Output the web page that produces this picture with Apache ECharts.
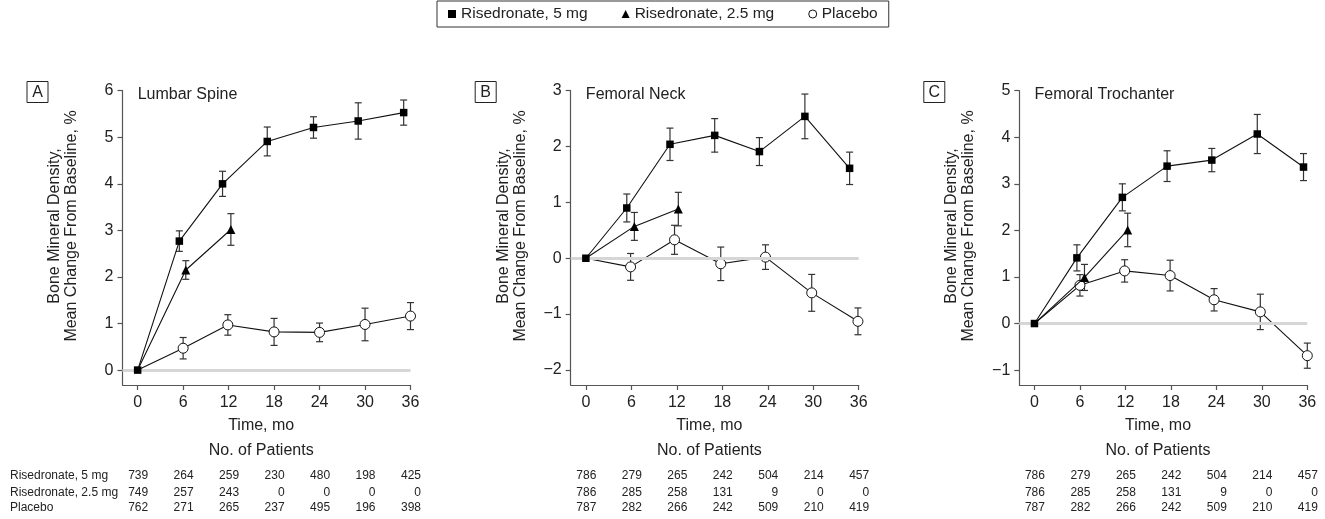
<!DOCTYPE html>
<html>
<head>
<meta charset="utf-8">
<script src="https://cdn.jsdelivr.net/npm/echarts@6/dist/echarts.min.js"></script>
<style>
html,body{margin:0;padding:0;background:#fff;}
#chart{width:1325px;height:519px;}
</style>
</head>
<body>
<div id="chart"></div>
<script>
// ---- data ----
const months = [0, 6, 12, 18, 24, 30, 36];
const seriesNames = ['Risedronate, 5 mg', 'Risedronate, 2.5 mg', 'Placebo'];
const panelLetters = ['A', 'B', 'C'];
const panelTitles = ['Lumbar Spine', 'Femoral Neck', 'Femoral Trochanter'];
const yTicksA = [0, 1, 2, 3, 4, 5, 6];
const yTicksB = [-2, -1, 0, 1, 2, 3];
const yTicksC = [-1, 0, 1, 2, 3, 4, 5];

// Panel A: Lumbar Spine
const lsSqX = [0, 5.5, 11.2, 17.1, 23.2, 29.1, 35.1];
const lsSqY = [0, 2.77, 4.0, 4.91, 5.21, 5.35, 5.53];
const lsSqErr = [0, 0.22, 0.27, 0.31, 0.23, 0.39, 0.27];
const lsTriX = [0, 6.35, 12.3];
const lsTriY = [0, 2.15, 3.02];
const lsTriErr = [0, 0.2, 0.34];
const lsPlX = [0, 6, 11.9, 18, 24, 30, 36];
const lsPlY = [0, 0.47, 0.97, 0.82, 0.81, 0.98, 1.16];
const lsPlErr = [0, 0.23, 0.22, 0.29, 0.2, 0.35, 0.29];

// Panel B: Femoral Neck
const fnSqX = [0, 5.4, 11.1, 17.0, 22.9, 28.9, 34.8];
const fnSqY = [0, 0.90, 2.04, 2.20, 1.91, 2.54, 1.61];
const fnSqErr = [0, 0.25, 0.29, 0.3, 0.25, 0.4, 0.29];
const fnTriX = [0, 6.4, 12.2];
const fnTriY = [0, 0.57, 0.88];
const fnTriErr = [0, 0.25, 0.3];
const fnPlX = [0, 5.9, 11.7, 17.8, 23.7, 29.8, 35.9];
const fnPlY = [0, -0.155, 0.33, -0.1, 0.02, -0.62, -1.13];
const fnPlErr = [0, 0.24, 0.26, 0.3, 0.22, 0.33, 0.24];

// Panel C: Femoral Trochanter
const ftSqX = [0, 5.6, 11.6, 17.5, 23.4, 29.4, 35.5];
const ftSqY = [0, 1.41, 2.71, 3.38, 3.51, 4.07, 3.36];
const ftSqErr = [0, 0.28, 0.29, 0.33, 0.25, 0.42, 0.29];
const ftTriX = [0, 6.6, 12.3];
const ftTriY = [0, 0.99, 2.01];
const ftTriErr = [0, 0.28, 0.36];
const ftPlX = [0, 6, 11.9, 17.9, 23.7, 29.8, 36];
const ftPlY = [0, 0.82, 1.13, 1.03, 0.51, 0.25, -0.69];
const ftPlErr = [0, 0.23, 0.24, 0.33, 0.24, 0.38, 0.27];

// Number of patients
const lsN5 = [739, 264, 259, 230, 480, 198, 425];
const lsN25 = [749, 257, 243, 0, 0, 0, 0];
const lsNPl = [762, 271, 265, 237, 495, 196, 398];
const fnN5 = [786, 279, 265, 242, 504, 214, 457];
const fnN25 = [786, 285, 258, 131, 9, 0, 0];
const fnNPl = [787, 282, 266, 242, 509, 210, 419];
const ftN5 = [786, 279, 265, 242, 504, 214, 457];
const ftN25 = [786, 285, 258, 131, 9, 0, 0];
const ftNPl = [787, 282, 266, 242, 509, 210, 419];

// ---- build ----
const FONT = '"Liberation Sans", Arial, Helvetica, sans-serif';
const TXT = '#222';
const AX = '#555';

const panels = [
  { sq: [lsSqX, lsSqY, lsSqErr], tri: [lsTriX, lsTriY, lsTriErr], pl: [lsPlX, lsPlY, lsPlErr],
    n: [lsN5, lsN25, lsNPl], yMin: -0.32, yMax: 6, yTicks: yTicksA, left: 122.5 },
  { sq: [fnSqX, fnSqY, fnSqErr], tri: [fnTriX, fnTriY, fnTriErr], pl: [fnPlX, fnPlY, fnPlErr],
    n: [fnN5, fnN25, fnNPl], yMin: -2.27, yMax: 3, yTicks: yTicksB, left: 570.7 },
  { sq: [ftSqX, ftSqY, ftSqErr], tri: [ftTriX, ftTriY, ftTriErr], pl: [ftPlX, ftPlY, ftPlErr],
    n: [ftN5, ftN25, ftNPl], yMin: -1.32, yMax: 5, yTicks: yTicksC, left: 1019.3 }
];

// points; the shared baseline point (month 0) is hidden under the square marker
function pts(xs, ys, hideFirst) {
  return xs.map((x, i) => (hideFirst && i === 0) ? { value: [x, ys[i]], symbol: 'none' } : [x, ys[i]]);
}
function errPts(xs, ys, es) {
  const out = [];
  xs.forEach((x, i) => { if (es[i] > 0) out.push([x, ys[i] - es[i], ys[i] + es[i]]); });
  return out;
}
function errRender(params, api) {
  const x = api.value(0), lo = api.value(1), hi = api.value(2);
  const p1 = api.coord([x, lo]), p2 = api.coord([x, hi]);
  const w = 3.5;
  const st = { stroke: '#333', lineWidth: 1.2 };
  return { type: 'group', children: [
    { type: 'line', shape: { x1: p1[0], y1: p1[1], x2: p2[0], y2: p2[1] }, style: st },
    { type: 'line', shape: { x1: p1[0] - w, y1: p1[1], x2: p1[0] + w, y2: p1[1] }, style: st },
    { type: 'line', shape: { x1: p2[0] - w, y1: p2[1], x2: p2[0] + w, y2: p2[1] }, style: st }
  ]};
}

const grids = [], xAxes = [], yAxes = [], series = [];
panels.forEach((p, i) => {
  grids.push({ left: p.left, top: 90.7, width: 288, height: 294.3 });
  xAxes.push({
    type: 'value', gridIndex: i, min: -2, max: 36,
    splitLine: { show: false },
    axisLine: { show: true, onZero: false, lineStyle: { color: AX, width: 1.2 } },
    axisTick: { show: true, length: 5, customValues: months, lineStyle: { color: AX, width: 1.2 } },
    axisLabel: { customValues: months, margin: 10, fontSize: 16, color: TXT, fontFamily: FONT }
  });
  yAxes.push({
    type: 'value', gridIndex: i, min: p.yMin, max: p.yMax,
    splitLine: { show: false },
    axisLine: { show: true, onZero: false, lineStyle: { color: AX, width: 1.2 } },
    axisTick: { show: true, length: 5, customValues: p.yTicks, lineStyle: { color: AX, width: 1.2 } },
    axisLabel: { customValues: p.yTicks, margin: 9, fontSize: 16, color: TXT, fontFamily: FONT,
      formatter: v => (v < 0 ? '\u2212' + Math.abs(v) : String(v)) }
  });
  // zero reference line
  series.push({
    type: 'line', name: 'zero' + i, xAxisIndex: i, yAxisIndex: i, data: [], z: 0, silent: true,
    markLine: { silent: true, symbol: 'none', label: { show: false },
      lineStyle: { color: '#d6d6d6', width: 3, type: 'solid' },
      emphasis: { disabled: true }, animation: false,
      data: [{ yAxis: 0 }] }
  });
  // error bars
  [p.pl, p.tri, p.sq].forEach((s, k) => {
    series.push({
      type: 'custom', name: 'err' + i + '_' + k, xAxisIndex: i, yAxisIndex: i, z: 1, silent: true,
      renderItem: errRender, encode: { x: 0, y: [1, 2] },
      data: errPts(s[0], s[1], s[2])
    });
  });
  // lines + markers
  series.push({
    type: 'line', name: seriesNames[2], xAxisIndex: i, yAxisIndex: i, z: 3,
    data: pts(p.pl[0], p.pl[1], true), symbol: 'circle', symbolSize: 10, showAllSymbol: true,
    lineStyle: { color: '#111', width: 1.1 },
    itemStyle: { color: '#fff', borderColor: '#111', borderWidth: 1 },
    emphasis: { disabled: true }
  });
  series.push({
    type: 'line', name: seriesNames[1], xAxisIndex: i, yAxisIndex: i, z: 4,
    data: pts(p.tri[0], p.tri[1], true), symbol: 'triangle', symbolSize: 9, showAllSymbol: true,
    lineStyle: { color: '#111', width: 1.1 },
    itemStyle: { color: '#000' },
    emphasis: { disabled: true }
  });
  series.push({
    type: 'line', name: seriesNames[0], xAxisIndex: i, yAxisIndex: i, z: 5,
    data: pts(p.sq[0], p.sq[1], false), symbol: 'rect', symbolSize: 7.5, showAllSymbol: true,
    lineStyle: { color: '#111', width: 1.1 },
    itemStyle: { color: '#000' },
    emphasis: { disabled: true }
  });
});

const chart = echarts.init(document.getElementById('chart'), null, { renderer: 'canvas' });
chart.setOption({
  animation: false,
  backgroundColor: '#fff',
  textStyle: { fontFamily: FONT },
  legend: {
    left: 437, top: 1,
    data: [
      { name: seriesNames[0], icon: 'rect' },
      { name: seriesNames[1], icon: 'triangle' },
      { name: seriesNames[2], icon: 'circle', itemStyle: { color: '#fff', borderColor: '#111', borderWidth: 1 } }
    ],
    itemWidth: 8, itemHeight: 8, itemGap: 34,
    padding: [5, 11, 5, 11],
    borderColor: '#333', borderWidth: 1, borderRadius: 0,
    selectedMode: false,
    textStyle: { fontSize: 15.5, color: TXT, fontFamily: FONT }
  },
  grid: grids, xAxis: xAxes, yAxis: yAxes, series: series
});

// ---- annotations positioned via axes ----
const graphics = [];
const rowY = [476, 492.3, 507.7];
panels.forEach((p, i) => {
  const px = v => chart.convertToPixel({ xAxisIndex: i }, v);
  const axisX = p.left;
  // panel letter box
  graphics.push({ type: 'rect', shape: { x: axisX - 95.5, y: 81.5, width: 21, height: 21 },
    style: { fill: '#fff', stroke: '#222', lineWidth: 1 } });
  graphics.push({ type: 'text', x: axisX - 85, y: 92.5,
    style: { text: panelLetters[i], font: '16px ' + FONT, fill: TXT, align: 'center', verticalAlign: 'middle' } });
  // title
  graphics.push({ type: 'text', x: px(0), y: 95,
    style: { text: panelTitles[i], font: '16px ' + FONT, fill: TXT, align: 'left', verticalAlign: 'middle' } });
  // y axis title
  graphics.push({ type: 'text', x: axisX - 59, y: 226, rotation: Math.PI / 2,
    style: { text: 'Bone Mineral Density,\nMean Change From Baseline, %', font: '16px ' + FONT,
      lineHeight: 17, fill: TXT, align: 'center', verticalAlign: 'middle' } });
  // x axis title and table heading
  graphics.push({ type: 'text', x: px(16.3), y: 425.7,
    style: { text: 'Time, mo', font: '16px ' + FONT, fill: TXT, align: 'center', verticalAlign: 'middle' } });
  graphics.push({ type: 'text', x: px(16.3), y: 450.7,
    style: { text: 'No. of Patients', font: '16px ' + FONT, fill: TXT, align: 'center', verticalAlign: 'middle' } });
  // table
  p.n.forEach((row, r) => {
    if (i === 0) {
      graphics.push({ type: 'text', x: 10, y: rowY[r],
        style: { text: seriesNames[r], font: '12px ' + FONT, fill: TXT, align: 'left', verticalAlign: 'middle' } });
    }
    row.forEach((val, c) => {
      graphics.push({ type: 'text', x: px(months[c]) + 10.5, y: rowY[r],
        style: { text: String(val), font: '12px ' + FONT, fill: TXT, align: 'right', verticalAlign: 'middle' } });
    });
  });
});
chart.setOption({ graphic: graphics });
</script>
</body>
</html>
